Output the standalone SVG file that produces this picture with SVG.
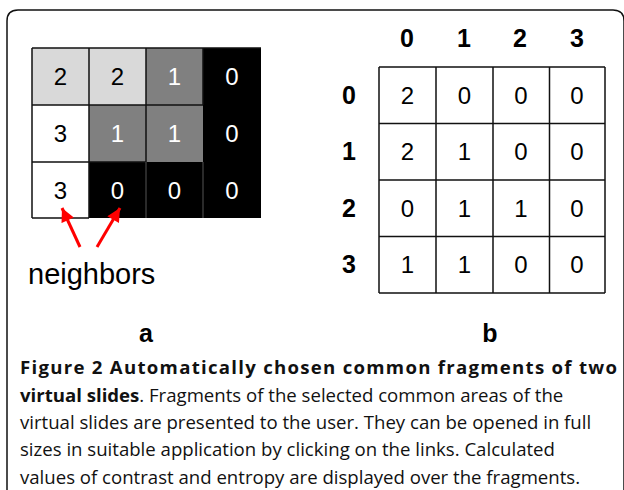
<svg xmlns="http://www.w3.org/2000/svg" width="624" height="490" viewBox="0 0 624 490">
<defs>
<marker id="ah" viewBox="0 0 10 10" refX="10" refY="5" markerWidth="5" markerHeight="4.5" markerUnits="strokeWidth" orient="auto">
<path d="M0,0 L10,5 L0,10 z" fill="#ff0000"/>
</marker>
<style>
.d{font-family:"Liberation Sans",Arial,sans-serif;font-size:24px;text-anchor:middle}
.w{fill:#fff}
.k{fill:#000}
.h{font-family:"Liberation Sans",Arial,sans-serif;font-size:25px;font-weight:bold;text-anchor:middle;fill:#000}
.gl{stroke:#111;stroke-width:1.5;fill:none}
.cap{font-family:"Open Sans","DejaVu Sans",sans-serif;font-size:18.6px;fill:#111}
.b{font-weight:bold}
</style>
</defs>
<rect width="624" height="490" fill="#fff"/>
<path d="M7,500 L7,21 Q7,10 18,10 L613,10 Q624,10 624,21 L624,500" fill="none" stroke="#111" stroke-width="1.5"/>

<g id="gridA">
<rect x="32" y="48" width="57" height="57" fill="#d9d9d9"/>
<rect x="89" y="48" width="57" height="57" fill="#d9d9d9"/>
<rect x="146" y="48" width="57" height="57" fill="#808080"/>
<rect x="203" y="48" width="58" height="57" fill="#000"/>
<rect x="32" y="105" width="57" height="57" fill="#fff"/>
<rect x="89" y="105" width="114" height="57" fill="#808080"/>
<rect x="203" y="105" width="58" height="57" fill="#000"/>
<rect x="32" y="162" width="57" height="56" fill="#fff"/>
<rect x="89" y="162" width="172" height="56" fill="#000"/>
<path class="gl" d="M32,48 H261 M32,105 H203 M32,162 H146 M32,218 H89 M32,48 V218 M89,48 V218 M146,48 V162 M203,48 V105"/>
<path d="M146,162 V218 M203,162 V218" stroke="#555" stroke-width="1"/>
<text class="d k" x="60.5" y="85">2</text>
<text class="d k" x="117.5" y="85">2</text>
<text class="d w" x="174.5" y="85">1</text>
<text class="d w" x="232" y="85">0</text>
<text class="d k" x="60.5" y="142">3</text>
<text class="d w" x="117.5" y="142">1</text>
<text class="d w" x="174.5" y="142">1</text>
<text class="d w" x="232" y="142">0</text>
<text class="d k" x="60.5" y="198.5">3</text>
<text class="d w" x="117.5" y="198.5">0</text>
<text class="d w" x="174.5" y="198.5">0</text>
<text class="d w" x="232" y="198.5">0</text>
</g>

<g id="connectors">
<line x1="80" y1="247" x2="62" y2="208" stroke="#ff0000" stroke-width="3" marker-end="url(#ah)"/>
<line x1="97" y1="247" x2="120" y2="208" stroke="#ff0000" stroke-width="3" marker-end="url(#ah)"/>
</g>

<g id="neighbors">
<text x="28" y="283.5" font-family="Liberation Sans,Arial,sans-serif" font-size="29" fill="#000">neighbors</text>
</g>

<g id="gridB">
<path class="gl" d="M379,67 H605 M379,123.5 H605 M379,180 H605 M379,236.5 H605 M379,293 H605 M379,67 V293 M436,67 V293 M493,67 V293 M549.5,67 V293 M605,67 V293"/>
<text class="h" x="407" y="46.5">0</text>
<text class="h" x="464" y="46.5">1</text>
<text class="h" x="520" y="46.5">2</text>
<text class="h" x="577" y="46.5">3</text>
<text class="h" x="349" y="103.5">0</text>
<text class="h" x="349" y="160">1</text>
<text class="h" x="349" y="216.5">2</text>
<text class="h" x="349" y="273">3</text>
<text class="d k" x="407.5" y="103.5">2</text>
<text class="d k" x="464.5" y="103.5">0</text>
<text class="d k" x="521" y="103.5">0</text>
<text class="d k" x="577" y="103.5">0</text>
<text class="d k" x="407.5" y="160">2</text>
<text class="d k" x="464.5" y="160">1</text>
<text class="d k" x="521" y="160">0</text>
<text class="d k" x="577" y="160">0</text>
<text class="d k" x="407.5" y="216.5">0</text>
<text class="d k" x="464.5" y="216.5">1</text>
<text class="d k" x="521" y="216.5">1</text>
<text class="d k" x="577" y="216.5">0</text>
<text class="d k" x="407.5" y="273">1</text>
<text class="d k" x="464.5" y="273">1</text>
<text class="d k" x="521" y="273">0</text>
<text class="d k" x="577" y="273">0</text>
</g>

<g id="labels">
<text class="h" x="146" y="341.5" font-size="26">a</text>
<text class="h" x="490" y="341.5" font-size="26">b</text>
</g>

<g id="caption">
<text class="cap b" x="20" y="374" textLength="597" lengthAdjust="spacing">Figure 2 Automatically chosen common fragments of two</text>
<text class="cap" x="20" y="401.5"><tspan class="b">virtual slides</tspan>. Fragments of the selected common areas of the</text>
<text class="cap" x="20" y="429">virtual slides are presented to the user. They can be opened in full</text>
<text class="cap" x="20" y="456">sizes in suitable application by clicking on the links. Calculated</text>
<text class="cap" x="20" y="483.5">values of contrast and entropy are displayed over the fragments.</text>
</g>
</svg>
